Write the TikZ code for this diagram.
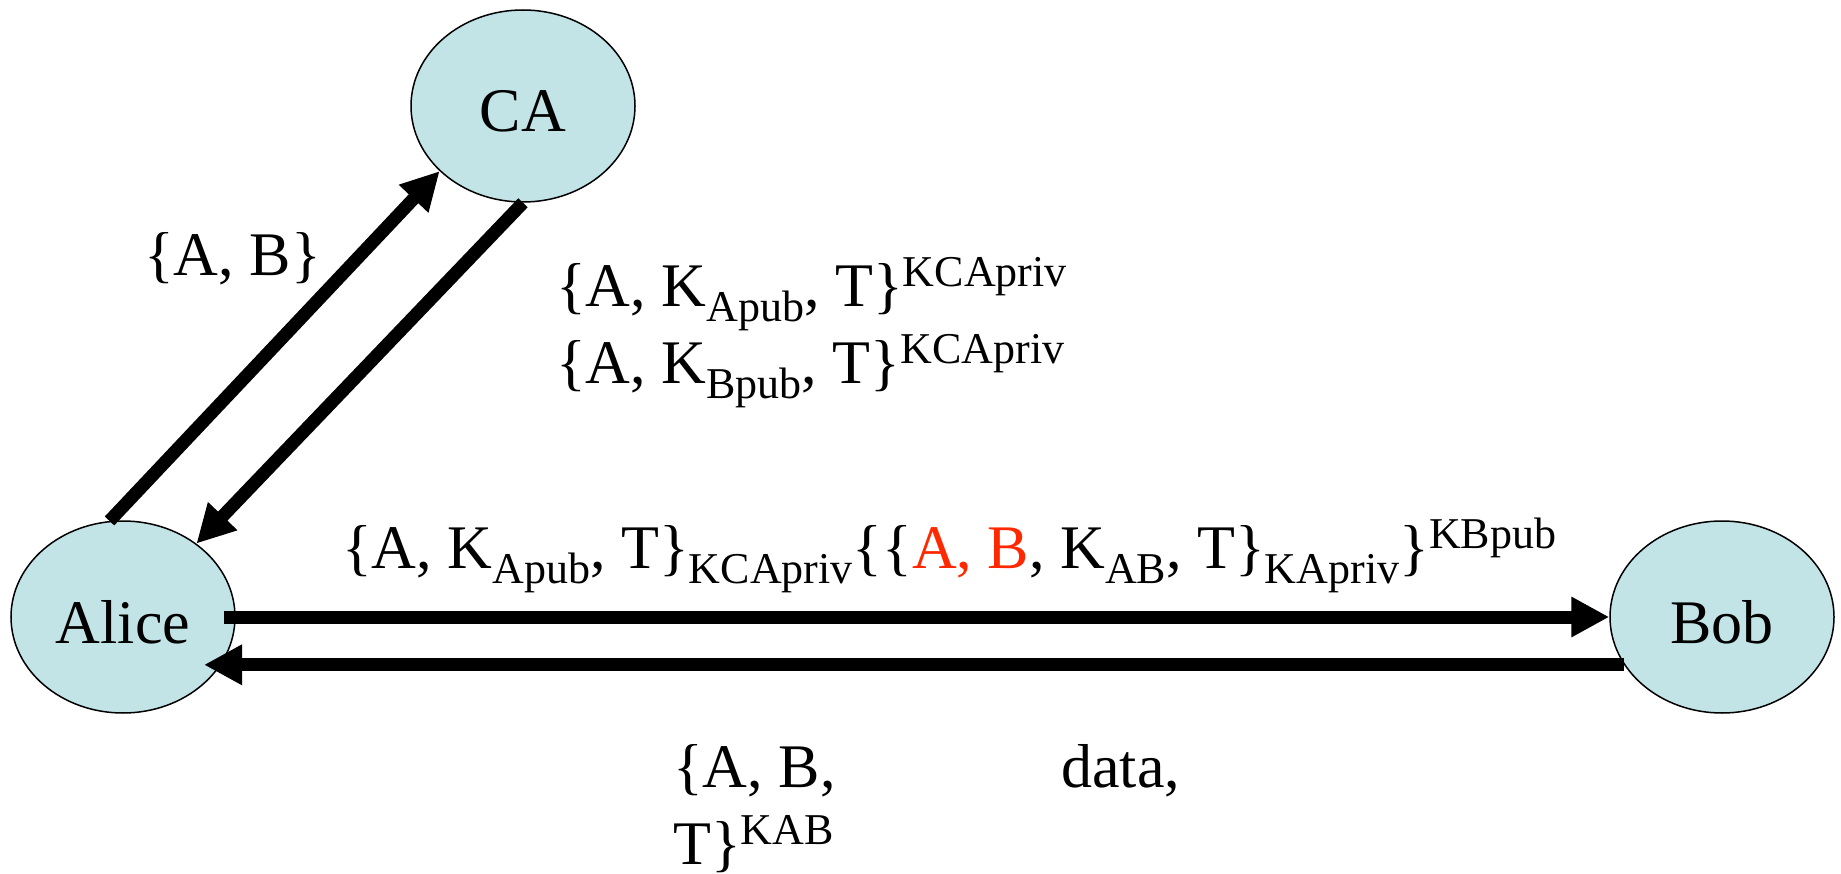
\documentclass[tikz,border=0pt]{standalone}
\usepackage{fontspec}
\setmainfont{Liberation Serif}
\usetikzlibrary{arrows.meta,shapes.geometric}
\definecolor{partyfill}{RGB}{194,228,231}
\definecolor{keyred}{RGB}{255,40,0}
\newcommand{\mysub}[1]{\raisebox{-15pt}{\fontsize{44}{44}\selectfont #1}}
\newcommand{\mysup}[1]{\raisebox{20pt}{\fontsize{44}{44}\selectfont #1}}
\begin{document}
\begin{tikzpicture}[x=1pt,y=-1pt,
  party/.style={ellipse,draw=black,line width=1.5pt,fill=partyfill,minimum width=224pt,minimum height=192pt,inner sep=0pt,text height=52pt,text depth=0pt,font=\fontsize{62}{74}\selectfont},
  msg/.style={inner sep=0pt,font=\fontsize{62}{77}\selectfont},
  flow/.style={line width=13pt,-{Triangle[length=38pt,width=38pt]}}]
\useasboundingbox (0,0) rectangle (1841,874);
\node[party] (ca) at (523,106) {CA};
\node[party] (alice) at (123,617) {Alice};
\node[party] (bob) at (1722,617) {Bob};
\draw[flow] (alice.98) -- (ca.218.3);
\draw[flow] (ca.270) -- (alice.45);
\draw[flow] ([xshift=-12pt]alice.east) -- (bob.west);
\draw[flow] (bob.206.3) -- ([xshift=-17pt]alice.-26.3);
\node[msg,anchor=base west] (ab) at (144,276) {\{A, B\}};
\node[msg,anchor=base west] (certs) at (556,307) {\vtop{\hbox{\{A, K\mysub{Apub}, T\}\mysup{KCApriv}}\hbox{\{A, K\mysub{Bpub}, T\}\mysup{KCApriv}}}};
\node[msg,anchor=base west] (sess) at (342,568) {\{A, K\mysub{Apub}, T\}\mysub{KCApriv}\{\{\textcolor{keyred}{A, B}, K\mysub{AB}, T\}\mysub{KApriv}\}\mysup{KBpub}};
\node[msg,anchor=base west] (data) at (673,787) {\vtop{\hbox to 507pt{\{A, B,\hfill data,}\hbox{T\}\mysup{KAB}}}};
\end{tikzpicture}
\end{document}
